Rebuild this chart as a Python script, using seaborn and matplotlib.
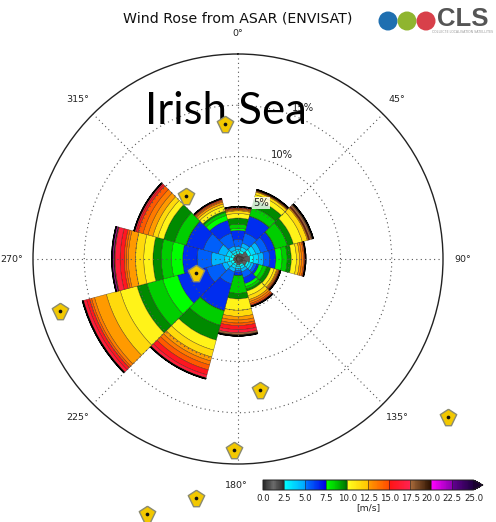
import numpy as np
import matplotlib
matplotlib.use("Agg")
import matplotlib.pyplot as plt
from matplotlib.colors import ListedColormap, Normalize
from matplotlib.cm import ScalarMappable
from matplotlib.patches import Circle
import seaborn as sns

sns.set_theme(style="white")
plt.rcParams['font.family'] = ['DejaVu Sans']

# direction centres (deg clockwise from north)
directions = [0, 30, 60, 90, 120, 150, 180, 210, 240, 270, 300, 330]
# cumulative frequency (%) at the top of each 1 m/s speed bin, 0-1 ... 21-22 m/s
dir_000 = [.30,.50,.70,.95,1.2,1.9,2.8,3.0,3.4,4.0,4.45,4.7,4.8,4.88,4.96,5.02,5.06,5.08,5.09,5.1,5.1,5.1]
dir_030 = [.35,.60,.85,1.2,1.6,2.6,4.3,4.35,5.2,6.0,6.5,6.75,6.82,6.87,6.9,6.93,6.95,6.97,6.98,6.99,7.0,7.0]
dir_060 = [.50,1.0,1.3,1.8,2.3,3.0,3.7,3.75,5.0,5.6,6.5,7.0,7.1,7.15,7.18,7.22,7.26,7.42,7.52,7.58,7.6,7.6]
dir_090 = [.60,1.15,1.5,2.0,2.5,3.1,3.7,4.3,4.8,5.2,5.7,6.0,6.2,6.4,6.5,6.55,6.58,6.59,6.6,6.6,6.6,6.6]
dir_120 = [.50,.90,1.1,1.35,1.6,1.9,2.1,2.5,2.9,3.3,3.65,3.9,4.0,4.1,4.16,4.2,4.24,4.27,4.29,4.3,4.3,4.3]
dir_150 = [.30,.55,.75,1.0,1.3,1.9,2.5,2.8,3.05,3.25,3.7,4.1,4.3,4.5,4.65,4.72,4.76,4.78,4.8,4.8,4.8,4.8]
dir_180 = [.35,.60,.75,.95,1.1,1.3,1.6,1.65,3.35,3.9,5.0,5.6,5.95,6.25,6.5,6.9,7.2,7.35,7.42,7.48,7.5,7.5]
dir_210 = [.25,.45,.65,.95,1.3,2.5,5.2,5.25,6.7,8.2,9.2,9.9,10.3,10.7,11.2,11.7,12.0,12.05,12.08,12.1,12.1,12.1]
dir_240 = [.20,.40,.70,1.1,1.6,3.2,6.1,7.6,9.2,10.2,11.9,13.3,14.5,14.8,15.0,15.3,15.6,15.64,15.67,15.7,15.7,15.7]
dir_270 = [.20,.45,.85,1.3,2.6,4.0,5.4,6.5,7.5,8.3,9.2,10.0,10.7,10.9,11.1,11.5,12.0,12.06,12.1,12.12,12.2,12.3]
dir_300 = [.20,.40,.70,1.2,2.0,3.5,5.2,5.25,6.4,7.5,8.1,8.6,9.1,9.6,10.1,10.3,10.42,10.46,10.48,10.5,10.5,10.5]
dir_330 = [.25,.45,.65,.90,1.3,2.6,3.9,4.4,4.7,4.85,5.3,5.55,5.75,5.85,5.95,6.02,6.06,6.08,6.09,6.1,6.1,6.1]
all_dirs = [dir_000, dir_030, dir_060, dir_090, dir_120, dir_150,
            dir_180, dir_210, dir_240, dir_270, dir_300, dir_330]

radial_ticks = [5, 10, 15]
angle_ticks = [0, 45, 90, 135, 180, 225, 270, 315]
cbar_ticks = [0.0, 2.5, 5.0, 7.5, 10.0, 12.5, 15.0, 17.5, 20.0, 22.5, 25.0]
# colour stops for each 2.5 m/s band
band_colors = [
    ["#2a2a2a", "#6a6a6a", "#2e2e2e"],
    ["#00ffff", "#00a8ff"],
    ["#0078ff", "#0000e6"],
    ["#00ff00", "#00c400", "#006e00"],
    ["#ffff20", "#ffc400"],
    ["#ff9a00", "#ff4c00"],
    ["#ff1414", "#ff2250"],
    ["#a86a3a", "#2a1000"],
    ["#ff00ff", "#8c00b0"],
    ["#620090", "#1e0040"],
]
pin_x = [225, 186, 196, 60, 260, 234, 448, 196, 147]
pin_y = [124, 196, 273, 311, 390, 450, 417, 498, 514]
logo_x = [388, 407, 426]
logo_colors = ["#1f6fb0", "#8fb52f", "#d8404a"]

W, H = 496, 522
fig = plt.figure(figsize=(W / 100, H / 100), dpi=100, facecolor="white")

cols = []
for stops in band_colors:
    cols += list(sns.blend_palette(stops, 25))
cmap = ListedColormap(cols)
cmap.set_over("#1a0030")
norm = Normalize(0, 25)

# polar rose
ax = fig.add_axes([33 / W, (H - 464) / H, 410 / W, 410 / H], projection="polar")
ax.set_theta_zero_location("N")
ax.set_theta_direction(-1)
ax.set_rlim(0, 20)
for d, cum in zip(directions, all_dirs):
    cum = np.array(cum)
    bottoms = np.r_[0, cum[:-1]]
    for i, (b, t) in enumerate(zip(bottoms, cum)):
        if t - b <= 0:
            continue
        ax.bar(np.deg2rad(d), t - b, width=np.deg2rad(30), bottom=b,
               color=cmap(norm(i + 0.5)), edgecolor=(0.1, 0.05, 0, 0.55), linewidth=0.35, zorder=2)
    ax.bar(np.deg2rad(d), 0.0, width=np.deg2rad(30), bottom=cum[-1],
           color="black", edgecolor="black", linewidth=1.0, zorder=2)
ax.set_axisbelow(False)
ax.set_xticks(np.deg2rad(angle_ticks))
ax.set_xticklabels([])
ax.set_yticks(radial_ticks)
ax.set_yticklabels([])
ax.grid(True, color="#555555", linestyle=(0, (1, 3)), linewidth=0.8)
ax.spines["polar"].set_color("#222222")
ax.spines["polar"].set_linewidth(1.0)
ax.patch.set_alpha(0)

# full-figure pixel overlay
ov = fig.add_axes([0, 0, 1, 1], facecolor="none")
ov.set_xlim(0, W)
ov.set_ylim(H, 0)
ov.axis("off")

ov.text(238, 19, "Wind Rose from ASAR (ENVISAT)", ha="center", va="center", fontsize=10.2, color="#111111")
ang_pos = [(238, 34), (397, 100), (463, 259), (397, 418), (236, 485), (78, 418), (12, 259), (78, 100)]
for a, (x, y) in zip(angle_ticks, ang_pos):
    ov.text(x, y, f"{a}°", ha="center", va="center", fontsize=6.8, color="#222222")
for r, (x, y) in zip(radial_ticks, [(261, 203), (282, 155), (303, 108)]):
    ov.text(x, y, f"{r}%", ha="center", va="center", fontsize=7.2, color="#222222",
            bbox=dict(facecolor="white", edgecolor="none", alpha=0.8, pad=0.8))
ov.text(226, 111, "Irish Sea", ha="center", va="center", fontsize=31.5, color="black",
        family="Lato")

pin_marker = [(0, 1), (1, .35), (.35, -1), (-.35, -1), (-1, .35), (0, 1)]
sns.scatterplot(x=pin_x, y=pin_y, ax=ov, marker=pin_marker, s=140, color="#f2c800",
                edgecolor="#8a8a70", linewidth=1.0, legend=False, zorder=5)
sns.scatterplot(x=pin_x, y=pin_y, ax=ov, marker="o", s=7, color="#111111",
                linewidth=0, legend=False, zorder=6)

# logo
for x, c in zip(logo_x, logo_colors):
    ov.add_patch(Circle((x, 21), 9.5, facecolor=c, edgecolor="none", zorder=4))
ov.text(437, 19, "CLS", ha="left", va="center", fontsize=18.5, fontweight="bold",
        color="#555555", family="Liberation Sans")
ov.text(463, 32, "COLLECTE LOCALISATION SATELLITES", ha="center", va="center",
        fontsize=2.3, color="#999999")
ov.set_xlim(0, W)
ov.set_ylim(H, 0)

# colour bar
cax = fig.add_axes([263 / W, (H - 490) / H, 220 / W, 10 / H])
cb = fig.colorbar(ScalarMappable(norm=norm, cmap=cmap), cax=cax, orientation="horizontal",
                  extend="max", extendfrac=10 / 220, ticks=cbar_ticks)
cb.ax.set_xticklabels([f"{t:.1f}" for t in cbar_ticks], fontsize=6.2, color="#222222")
cb.ax.tick_params(length=0, pad=3)
cb.outline.set_edgecolor("#222222")
cb.outline.set_linewidth(0.7)
for t in cbar_ticks[1:-1]:
    cb.ax.axvline(t, color="#222222", linewidth=0.4)
cb.set_label("[m/s]", fontsize=6.6, color="#222222", labelpad=0)

fig.savefig("out.png", dpi=100)
